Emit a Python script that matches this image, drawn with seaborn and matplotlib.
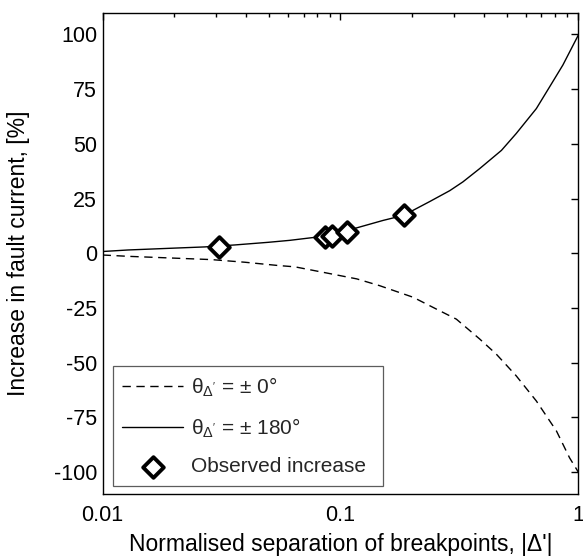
import matplotlib
matplotlib.use("Agg")
import matplotlib.pyplot as plt
import matplotlib.ticker as mticker
import seaborn as sns
import pandas as pd

# --- values (|Delta'| vs % increase) ---
x_solid = [0.01, 0.0128, 0.0195, 0.0269, 0.036, 0.0497, 0.0612, 0.0743, 0.0859,
           0.1, 0.117, 0.151, 0.184, 0.237, 0.288, 0.327, 0.385, 0.475, 0.548,
           0.666, 0.757, 0.861, 1.0]
y_solid = [0.8, 1.5, 2.3, 2.9, 3.8, 5.0, 5.9, 7.0, 7.8,
           9.6, 11.6, 15.0, 17.3, 23.6, 28.6, 32.6, 38.7, 47.0, 54.7,
           66.1, 76.0, 86.0, 99.7]

x_dash = [0.01, 0.0128, 0.0208, 0.0287, 0.0396, 0.0547, 0.0643, 0.0845, 0.117,
          0.146, 0.202, 0.253, 0.307, 0.385, 0.452, 0.548, 0.666, 0.809, 0.919,
          1.0]
y_dash = [-0.8, -1.4, -2.3, -2.9, -4.1, -5.6, -6.2, -8.7, -11.7,
          -14.8, -20.1, -25.5, -30.1, -39.2, -46.1, -56.0, -67.5, -81.2, -93.5,
          -100.0]

x_obs = [0.0308, 0.0859, 0.0917, 0.107, 0.1845]
y_obs = [2.7, 7.3, 8.1, 9.9, 17.3]

y_ticks = [-100, -75, -50, -25, 0, 25, 50, 75, 100]
x_ticks = [0.01, 0.1, 1]

labels = [r"θ$_{\Delta'}$ = ± 0°", r"θ$_{\Delta'}$ = ± 180°", "Observed increase"]

sns.set_theme(style="white")
plt.rcParams['font.family'] = ['Liberation Sans', 'DejaVu Sans']
plt.rcParams['mathtext.fontset'] = 'custom'
plt.rcParams['mathtext.rm'] = 'Liberation Sans'
plt.rcParams['mathtext.it'] = 'Liberation Sans:italic'
plt.rcParams['axes.unicode_minus'] = False

fig = plt.figure(figsize=(5.83, 5.56), dpi=100)
ax = fig.add_axes([0.176, 0.1115, 0.816, 0.866])

df_dash = pd.DataFrame({'x': x_dash, 'y': y_dash})
df_solid = pd.DataFrame({'x': x_solid, 'y': y_solid})
df_obs = pd.DataFrame({'x': x_obs, 'y': y_obs})

sns.lineplot(data=df_dash, x='x', y='y', ax=ax, color='black', lw=1.0,
             linestyle=(0, (6, 4)), label=labels[0])
sns.lineplot(data=df_solid, x='x', y='y', ax=ax, color='black', lw=1.0,
             label=labels[1])
sns.scatterplot(data=df_obs, x='x', y='y', ax=ax, marker='D', s=110,
                facecolor='white', edgecolor='black', linewidth=2.8,
                label=labels[2], zorder=5)

ax.set_xscale('log')
ax.set_xlim(0.01, 1)
ax.set_ylim(-110, 110)
ax.set_yticks(y_ticks)
ax.set_xticks(x_ticks)
ax.xaxis.set_major_formatter(mticker.FuncFormatter(lambda v, p: f"{v:g}"))
ax.xaxis.set_minor_locator(mticker.LogLocator(base=10, subs=range(2, 10)))
ax.xaxis.set_minor_formatter(mticker.NullFormatter())

ax.tick_params(which='both', direction='in', top=True, right=True,
               labelsize=15.5, color='black', width=1.0, labelcolor='black')
ax.tick_params(which='major', length=5)
ax.tick_params(which='minor', length=3)
ax.tick_params(axis='x', pad=8)
ax.tick_params(axis='y', pad=4)
for s in ax.spines.values():
    s.set_color('black')
    s.set_linewidth(1.0)

ax.set_xlabel("Normalised separation of breakpoints, |Δ'|", fontsize=16.5,
              color='black')
ax.set_ylabel("Increase in fault current, [%]", fontsize=16.5, color='black')
ax.xaxis.set_label_coords(0.5, -0.08)
ax.yaxis.set_label_coords(-0.152, 0.5)

leg = ax.legend(loc='lower left', bbox_to_anchor=(0.022, 0.017, 0.567, 0.248),
                mode='expand', fontsize=15, frameon=True, fancybox=False,
                handlelength=2.9, borderaxespad=0, scatterpoints=1,
                labelspacing=0.85, handletextpad=0.4, borderpad=0.45)
leg.get_frame().set_edgecolor('#333333')
leg.get_frame().set_linewidth(0.9)

fig.savefig('out.png', dpi=100)
